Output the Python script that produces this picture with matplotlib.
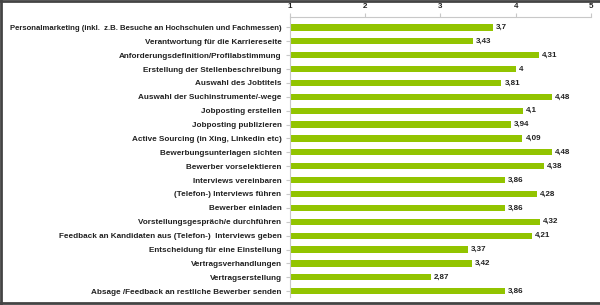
import numpy as np
import matplotlib.pyplot as plt
from matplotlib.lines import Line2D

# Daten
aufgaben = [
    "Personalmarketing (inkl.  z.B. Besuche an Hochschulen und Fachmessen)",
    "Verantwortung für die Karriereseite",
    "Anforderungsdefinition/Profilabstimmung",
    "Erstellung der Stellenbeschreibung",
    "Auswahl des Jobtitels",
    "Auswahl der Suchinstrumente/-wege",
    "Jobposting erstellen",
    "Jobposting publizieren",
    "Active Sourcing (in Xing, Linkedin etc)",
    "Bewerbungsunterlagen sichten",
    "Bewerber vorselektieren",
    "Interviews vereinbaren",
    "(Telefon-) Interviews führen",
    "Bewerber einladen",
    "Vorstellungsgespräch/e durchführen",
    "Feedback an Kandidaten aus (Telefon-)  Interviews geben",
    "Entscheidung für eine Einstellung",
    "Vertragsverhandlungen",
    "Vertragserstellung",
    "Absage /Feedback an restliche Bewerber senden",
]
werte = [3.7, 3.43, 4.31, 4.0, 3.81, 4.48, 4.1, 3.94, 4.09, 4.48, 4.38,
         3.86, 4.28, 3.86, 4.32, 4.21, 3.37, 3.42, 2.87, 3.86]
x_ticks = [1, 2, 3, 4, 5]

plt.rcParams['font.family'] = ['Liberation Sans', 'DejaVu Sans']

fig = plt.figure(figsize=(6.0, 3.05), dpi=100)
ax = fig.add_axes([0.483, 0.025, 0.502, 0.919])

y = np.arange(len(aufgaben))
ax.barh(y, np.array(werte) - 1, left=1, height=0.45, color="#92C400")

for yi, w in zip(y, werte):
    txt = f"{w:g}".replace(".", ",")
    ax.text(w + 0.04, yi, txt, va="center", ha="left", fontsize=5.8,
            fontweight="bold", color="#222222")

ax.set_xlim(1, 5)
ax.set_ylim(len(aufgaben) - 0.55, -0.75)
ax.set_yticks(y)
ax.set_yticklabels(aufgaben, fontsize=5.85, fontweight="bold", color="#222222")
# längstes Label etwas kleiner, damit es in den Rahmen passt
ax.get_yticklabels()[0].set_fontsize(5.55)
ax.set_xticks(x_ticks)
ax.set_xticklabels([str(t) for t in x_ticks], fontsize=5.8, fontweight="bold",
                   color="#222222")
ax.xaxis.tick_top()
ax.tick_params(axis="x", length=3, color="#c8c8c8", pad=2, direction="out")
ax.tick_params(axis="y", length=3, color="#c8c8c8", pad=3)
for s in ["right", "bottom"]:
    ax.spines[s].set_visible(False)
for s in ["top", "left"]:
    ax.spines[s].set_color("#c8c8c8")
    ax.spines[s].set_linewidth(0.8)

# Rahmen (oben, links, unten)
rahmen = dict(transform=fig.transFigure, color="#444444", linewidth=2)
fig.add_artist(Line2D([0, 1], [0.997, 0.997], **rahmen))
fig.add_artist(Line2D([0.002, 0.002], [0, 1], **rahmen))
fig.add_artist(Line2D([0, 1], [0.008, 0.008], **rahmen))

fig.savefig("out.png", dpi=100)
